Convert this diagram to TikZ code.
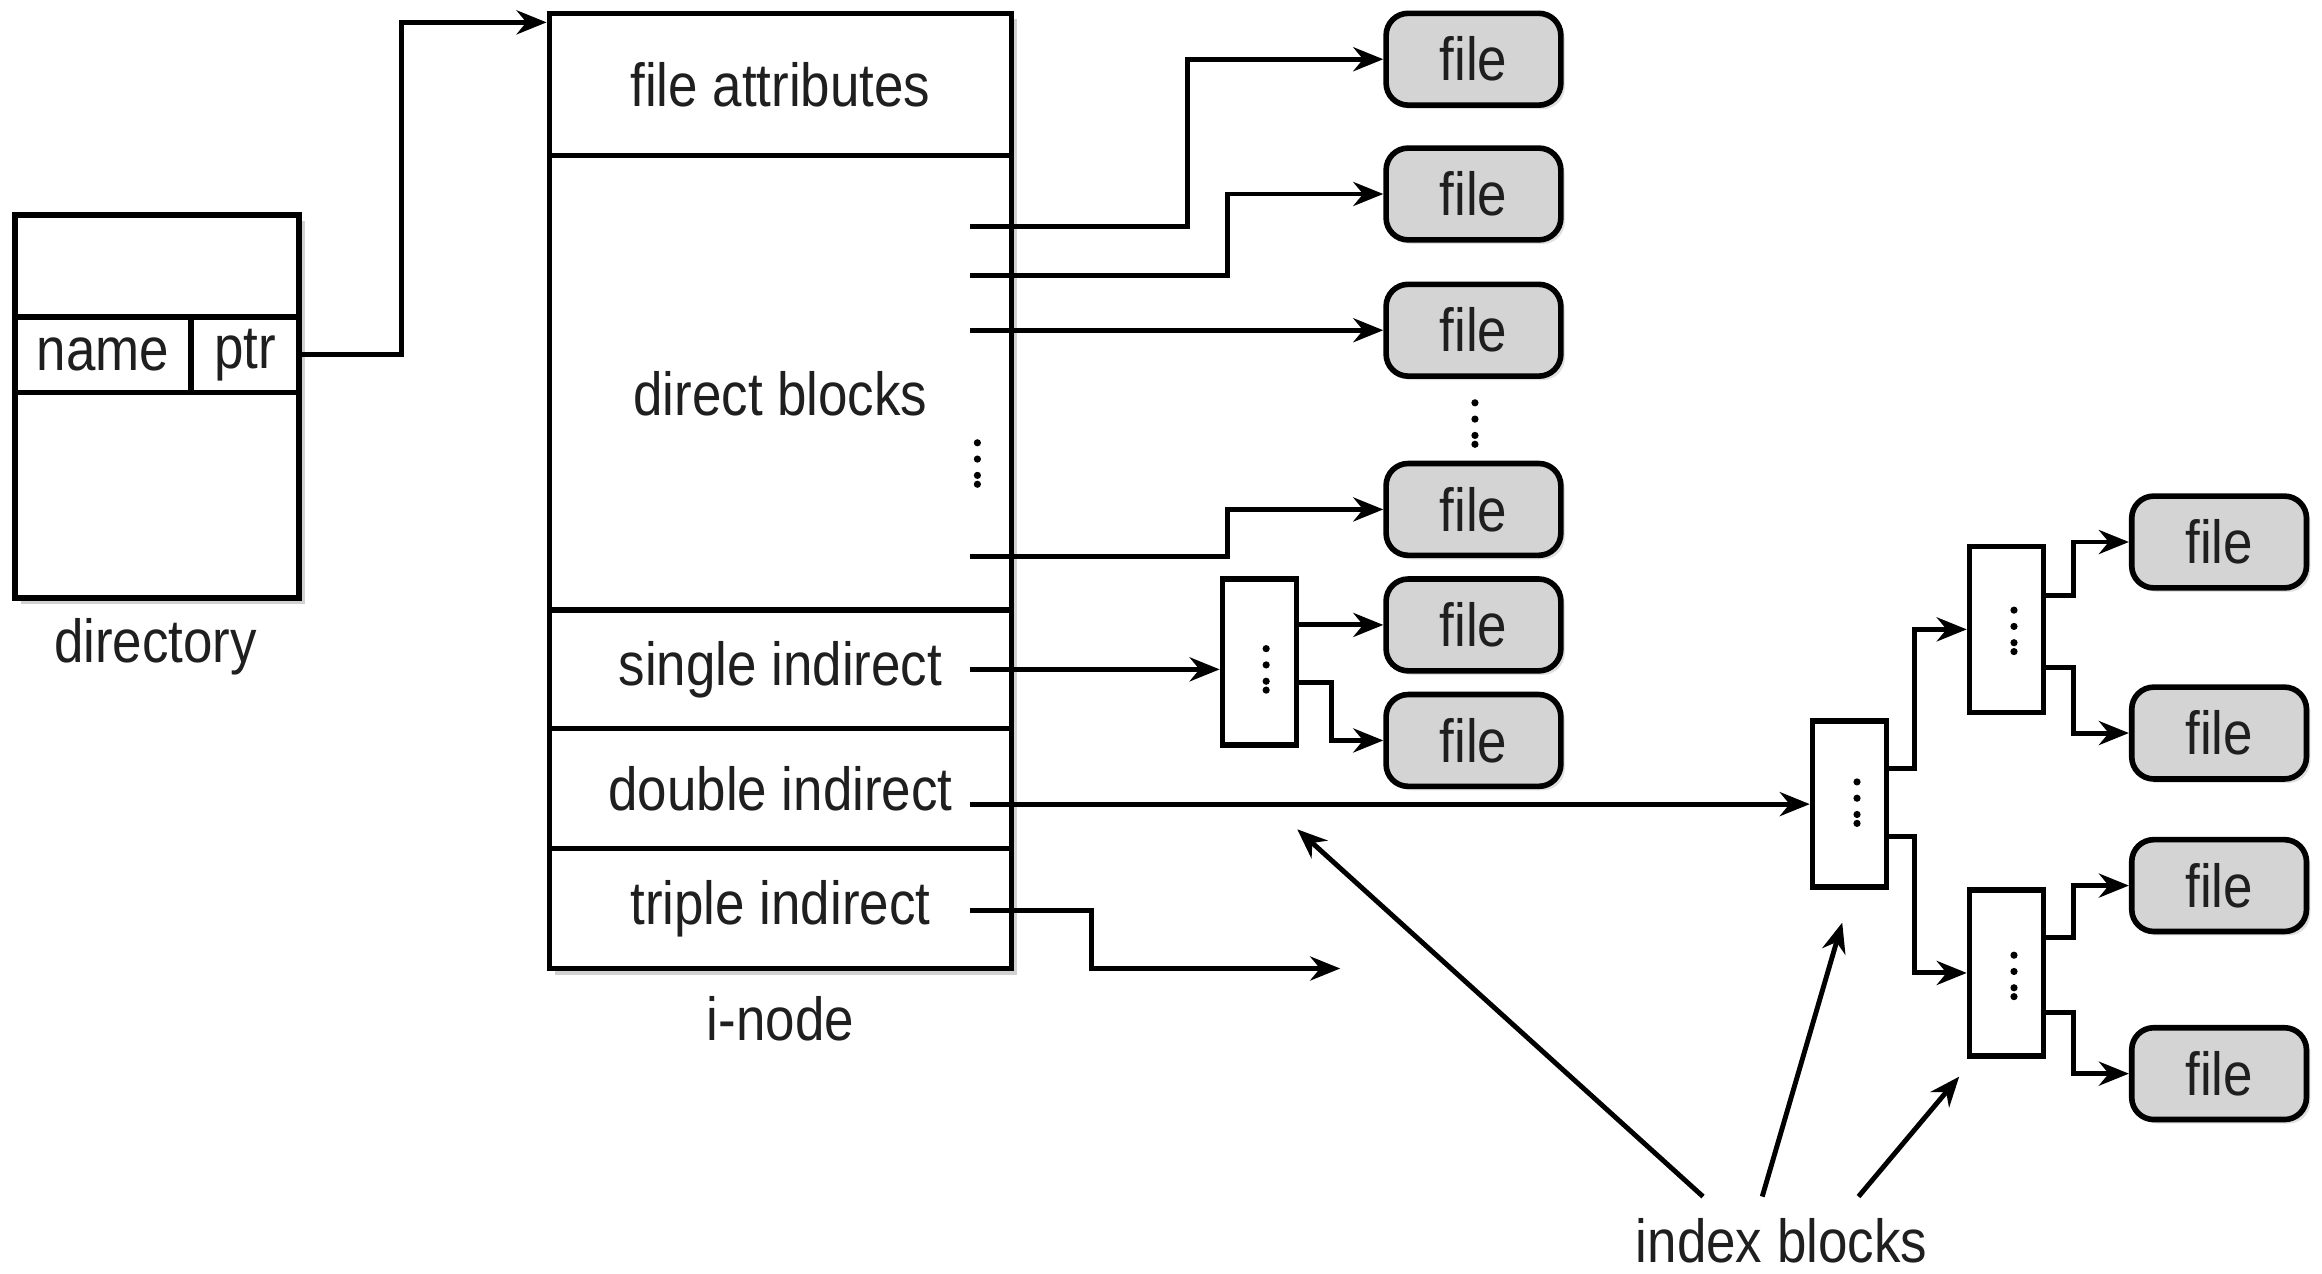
\documentclass[tikz,border=0pt]{standalone}
\usepackage{fontspec}
\setmainfont{Liberation Sans}[FakeStretch=0.87]
\usetikzlibrary{arrows.meta,shadows,calc}
\newcommand{\pxu}{0.14809mm}
\begin{document}
\begin{tikzpicture}[x=0.14809mm,y=-0.14809mm,
  font=\fontsize{17.3}{20}\selectfont,
  sz/.style 2 args={minimum width=#1*\pxu, minimum height=#2*\pxu},
  box/.style={draw, fill=white, line width=1.6pt, inner sep=0pt, text=black!88},
  shad/.style={drop shadow={shadow xshift=0.6mm, shadow yshift=-0.6mm, fill=black!18, opacity=1}},
  lshad/.style={drop shadow={shadow xshift=0.4mm, shadow yshift=-0.4mm, fill=black!12, opacity=1}},
  fileb/.style={box, fill=black!17, rounded corners=2.2mm, sz={118}{62}, lshad},
  idx/.style={box, sz={50}{112}},
  arr/.style={-{Stealth[length=3mm,width=2.4mm]}, line width=1.4pt},
  lbl/.style={text=black!88, inner sep=0pt},
  vdts/.pic={\fill (0,0) circle (0.36mm) (0,11) circle (0.36mm) (0,22) circle (0.36mm) (0,28) circle (0.36mm);}
]
\useasboundingbox (0,0) rectangle (1568,860);

% directory
\node[box, sz={192}{259}, shad] (dir) at (106,274.5) {};
\node[box, sz={192}{69}] (dtop) at (106,179.5) {};
\node[box, sz={119}{51}] (name) at (69.5,239.5) {name};
\node[box, sz={73}{51}] (ptr) at (165.5,239.5) {ptr};
\node[lbl] (dirl) at (105,437) {directory};

% i-node
\node[box, sz={312}{645}, shad] (inode) at (527,331.5) {};
\node[box, sz={312}{96}] (fa) at (527,57) {file attributes};
\node[box, sz={312}{307}] (db) at (527,258.5) {};
\node[lbl] (dbt) at (527,266) {direct blocks};
\node[box, sz={312}{80}] (si) at (527,452) {single indirect};
\node[box, sz={312}{81}] (di) at (527,532.5) {double indirect};
\node[box, sz={312}{81}] (ti) at (527,613.5) {triple indirect};
\node[lbl] (inl) at (527,688) {i-node};
\pic at (660,299) {vdts};

% files, first column
\node[fileb] (f1) at (995,40) {file};
\node[fileb] (f2) at (995,131) {file};
\node[fileb] (f3) at (995,223) {file};
\node[fileb] (f4) at (995,344) {file};
\node[fileb] (f5) at (995,422) {file};
\node[fileb] (f6) at (995,500) {file};
\pic at (996,272) {vdts};

% files, second column
\node[fileb] (f7) at (1498.5,366) {file};
\node[fileb] (f8) at (1498.5,495) {file};
\node[fileb] (f9) at (1498.5,598) {file};
\node[fileb] (f10) at (1498.5,725) {file};

% index blocks
\node[idx] (ib1) at (850.5,447) {};
\node[idx] (ib2) at (1249,543) {};
\node[idx] (ib3) at (1355,425) {};
\node[idx] (ib4) at (1355,657) {};
\pic at (855,438) {vdts};
\pic at (1254,528) {vdts};
\pic at (1360,412) {vdts};
\pic at (1360,645) {vdts};

\node[lbl] (ixl) at (1203,838) {index blocks};

% pointer from directory to i-node
\draw[arr] (ptr.east) -- ++(67,0) |- ($(inode.north west)+(0,8)$);

% direct blocks
\coordinate (d1) at (655,153);
\coordinate (d2) at (655,186);
\coordinate (d3) at (655,223);
\coordinate (d4) at (655,376);
\draw[arr] (d1) -- ++(147,0) |- (f1.west);
\draw[arr] (d2) -- ++(174,0) |- (f2.west);
\draw[arr] (d3) -- (f3.west);
\draw[arr] (d4) -- ++(174,0) |- (f4.west);

% single indirect
\coordinate (s0) at (655,452);
\draw[arr] (s0) -- (s0 -| ib1.west);
\draw[arr] (ib1.east |- f5.west) -- (f5.west);
\draw[arr] ($(ib1.east)+(0,14)$) -- ++(22,0) |- (f6.west);

% double indirect
\coordinate (dd0) at (655,543);
\draw[arr] (dd0) -- (ib2.west);
\draw[arr] ($(ib2.east)+(0,-24)$) -- ++(17,0) |- (ib3.west);
\draw[arr] ($(ib2.east)+(0,22)$) -- ++(17,0) |- (ib4.west);
\draw[arr] ($(ib3.east)+(0,-23)$) -- ++(18,0) |- (f7.west);
\draw[arr] ($(ib3.east)+(0,26)$) -- ++(18,0) |- (f8.west);
\draw[arr] ($(ib4.east)+(0,-24)$) -- ++(18,0) |- (f9.west);
\draw[arr] ($(ib4.east)+(0,27)$) -- ++(18,0) |- (f10.west);

% triple indirect
\coordinate (t0) at (655,615);
\coordinate (t1) at (905,654);
\draw[arr] (t0) -- ++(82,0) |- (t1);

% index block labels
\coordinate (a1s) at (1150,808);
\coordinate (a1e) at (876,560);
\coordinate (a2s) at (1190,808);
\coordinate (a2e) at (1244,623);
\coordinate (a3s) at (1255,808);
\coordinate (a3e) at (1323,727);
\draw[arr] (a1s) -- (a1e);
\draw[arr] (a2s) -- (a2e);
\draw[arr] (a3s) -- (a3e);
\end{tikzpicture}
\end{document}
